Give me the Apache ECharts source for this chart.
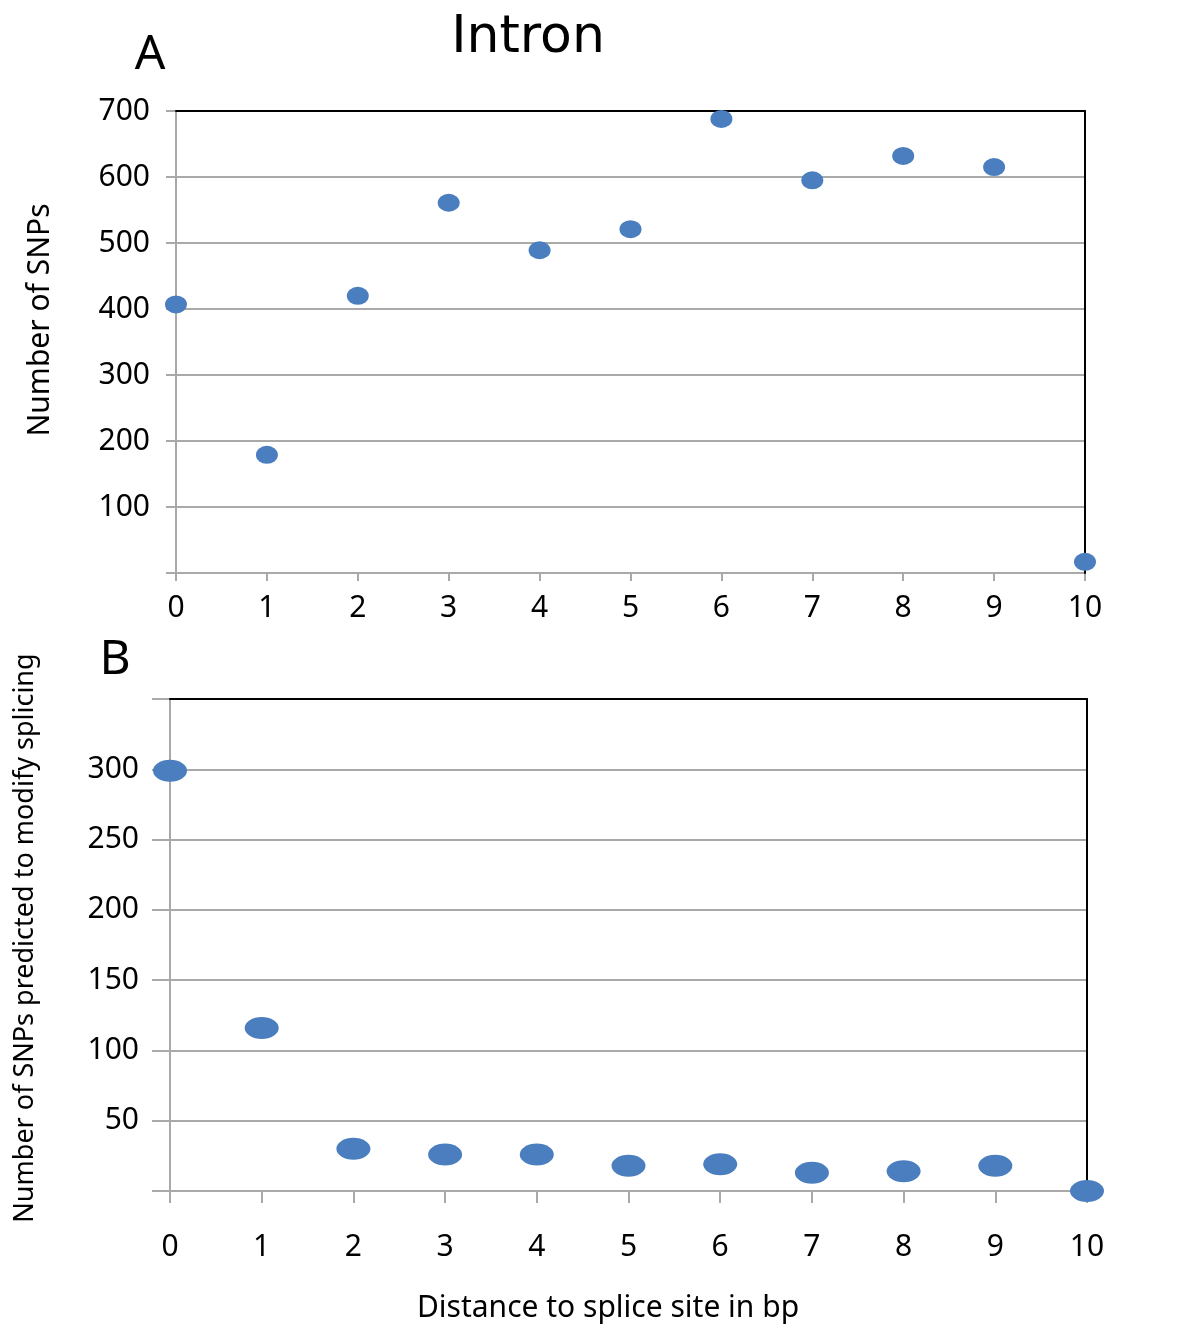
<!DOCTYPE html>
<html><head><meta charset="utf-8">
<script src="https://cdn.jsdelivr.net/npm/echarts@6/dist/echarts.min.js"></script>
<style>html,body{margin:0;padding:0;background:#fff}#c{width:1200px;height:1338px}</style>
</head><body><div id="c"></div>
<script>
const distances = [0,1,2,3,4,5,6,7,8,9,10];
const snpsA = [407,179,420,561,489,521,688,595,632,615,17];
const snpsB = [299,116,30,26,26,18,19,13,14,18,0];
const xTicks = ['0','1','2','3','4','5','6','7','8','9','10'];
const yTicksA = ['','100','200','300','400','500','600','700'];
const yTicksB = ['','50','100','150','200','250','300',''];

const FONT = 'Noto Sans';
const GRID_GRAY = '#a9a9a9';
const BLUE = '#4a7ebf';
const ELLIPSE = 'path://M1,0A1,1,0,1,1,-1,0A1,1,0,1,1,1,0Z';

const chart = echarts.init(document.getElementById('c'));
function yAxisOpt(gi, max, interval, labels, tickLen, margin){
  return {
    gridIndex: gi, type:'value', min:0, max:max, interval:interval,
    axisLine:{show:true, lineStyle:{color:GRID_GRAY, width:2}},
    axisTick:{show:true, length:tickLen, lineStyle:{color:GRID_GRAY, width:2}},
    splitLine:{show:true, lineStyle:{color:GRID_GRAY, width:2}},
    axisLabel:{fontFamily:FONT, fontSize:30, color:'#000', margin:margin,
      formatter:(v)=>labels[Math.round(v/interval)]}
  };
}
function xAxisOpt(gi, tickLen, margin){
  return {
    gridIndex: gi, type:'value', min:0, max:10, interval:1,
    axisLine:{show:true, onZero:false, lineStyle:{color:GRID_GRAY, width:2}},
    axisTick:{show:true, length:tickLen, lineStyle:{color:GRID_GRAY, width:2}},
    splitLine:{show:false},
    axisLabel:{fontFamily:FONT, fontSize:30, color:'#000', margin:margin,
      formatter:(v)=>xTicks[v]}
  };
}
function borderX(gi){
  return {gridIndex:gi, type:'value', min:0, max:10, position:'top', z:5,
    axisLine:{show:true, onZero:false, lineStyle:{color:'#000', width:2}},
    axisTick:{show:false}, axisLabel:{show:false}, splitLine:{show:false}};
}
function borderY(gi, max){
  return {gridIndex:gi, type:'value', min:0, max:max, position:'right', z:5,
    axisLine:{show:true, onZero:false, lineStyle:{color:'#000', width:2}},
    axisTick:{show:false}, axisLabel:{show:false}, splitLine:{show:false}};
}
chart.setOption({
  animation:false,
  grid:[
    {left:176, right:115, top:111, height:462},
    {left:170, right:113, top:699, height:492}
  ],
  xAxis:[ xAxisOpt(0, 8, 20), xAxisOpt(1, 12, 41), borderX(0), borderX(1) ],
  yAxis:[ yAxisOpt(0, 700, 100, yTicksA, 10, 26), yAxisOpt(1, 350, 50, yTicksB, 18, 31), borderY(0,700), borderY(1,350) ],
  series:[
    {type:'scatter', xAxisIndex:0, yAxisIndex:0, symbol:ELLIPSE, symbolSize:[22,18], z:10,
     itemStyle:{color:BLUE, opacity:1}, data:distances.map((d,i)=>[d,snpsA[i]])},
    {type:'scatter', xAxisIndex:1, yAxisIndex:1, symbol:ELLIPSE, symbolSize:[34,22], z:10,
     itemStyle:{color:BLUE, opacity:1}, data:distances.map((d,i)=>[d,snpsB[i]])}
  ],
  graphic:[
    {type:'text', position:[528,38], style:{text:'Intron', fontFamily:'DejaVu Sans', fontSize:52, fill:'#000', textAlign:'center', textVerticalAlign:'middle'}},
    {type:'text', position:[150,55], style:{text:'A', fontFamily:FONT, fontSize:48, fill:'#000', textAlign:'center', textVerticalAlign:'middle'}},
    {type:'text', position:[115,660], style:{text:'B', fontFamily:FONT, fontSize:48, fill:'#000', textAlign:'center', textVerticalAlign:'middle'}},
    {type:'text', position:[40,320], rotation:Math.PI/2, style:{text:'Number of SNPs', fontFamily:FONT, fontSize:30, fill:'#000', textAlign:'center', textVerticalAlign:'middle'}},
    {type:'text', position:[25,938], rotation:Math.PI/2, style:{text:'Number of SNPs predicted to modify splicing', fontFamily:FONT, fontSize:27, fill:'#000', textAlign:'center', textVerticalAlign:'middle'}},
    {type:'text', position:[608,1308], style:{text:'Distance to splice site in bp', fontFamily:FONT, fontSize:30, fill:'#000', textAlign:'center', textVerticalAlign:'middle'}}
  ]
});
</script></body></html>
